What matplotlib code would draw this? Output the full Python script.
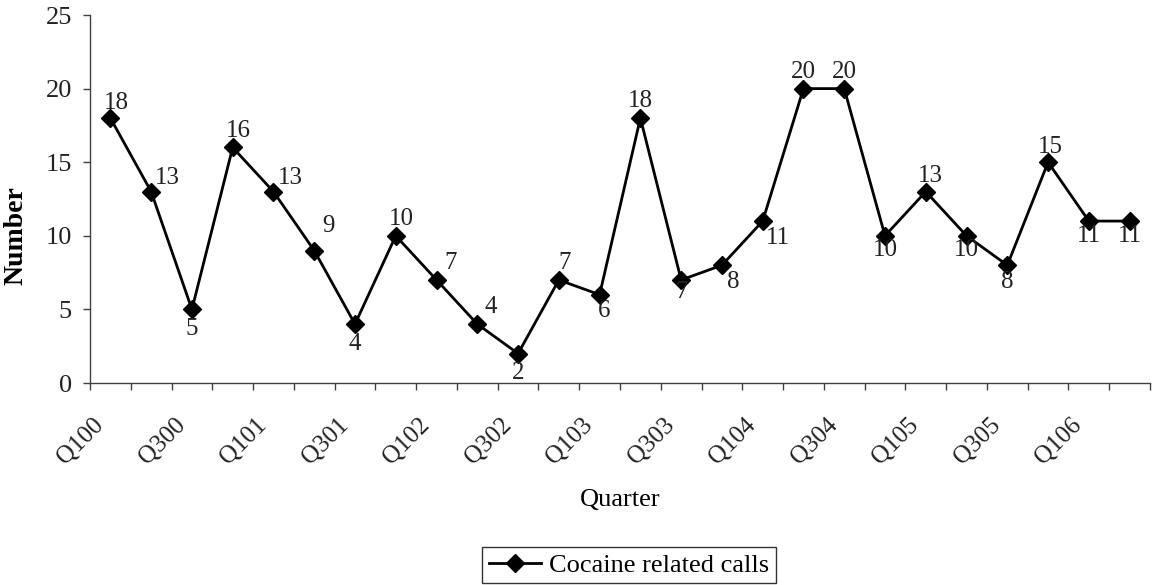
import matplotlib
matplotlib.use("Agg")
import matplotlib.pyplot as plt
import matplotlib.transforms as mtransforms
from matplotlib.ticker import FixedLocator, NullFormatter

quarters = ["Q100", "Q200", "Q300", "Q400",
            "Q101", "Q201", "Q301", "Q401",
            "Q102", "Q202", "Q302", "Q402",
            "Q103", "Q203", "Q303", "Q403",
            "Q104", "Q204", "Q304", "Q404",
            "Q105", "Q205", "Q305", "Q405",
            "Q106", "Q206"]
calls = [18, 13, 5, 16, 13, 9, 4, 10, 7, 4, 2, 7, 6,
         18, 7, 8, 11, 20, 20, 10, 13, 10, 8, 15, 11, 11]
series_name = "Cocaine related calls"
yticks = [0, 5, 10, 15, 20, 25]

# label offsets in points (style only)
label_offsets = [(4, 11), (12, 10), (0, -14), (4, 12), (12, 10), (10, 18), (0, -14),
                 (4, 12), (10, 12), (10, 12), (0, -14), (4, 12), (3, -12),
                 (0, 12), (0, -9), (8, -12), (11, -12), (0, 12), (0, 12),
                 (0, -10), (3, 11), (0, -10), (0, -12), (2, 11), (0, -11), (0, -11)]

plt.rcParams['font.family'] = ['Liberation Serif', 'DejaVu Serif']
FS_TICK = 19
FS_DATA = 18

fig = plt.figure(figsize=(11.53, 5.85), dpi=100)
ax = fig.add_axes([90/1153, 1-383/585, (1150-90)/1153, (383-15)/585])

xs = [i + 0.5 for i in range(len(calls))]
ax.plot(xs, calls, color='black', lw=2.0, marker='D', ms=9, mfc='black',
        mec='black', label=series_name)

for x, v, (dx, dy) in zip(xs, calls, label_offsets):
    ax.annotate(str(v), (x, v), xytext=(dx, dy), textcoords='offset points',
                ha='center', va='center', fontsize=FS_DATA, color='#222222')

ax.set_xlim(0, len(calls))
ax.set_ylim(0, 25)
ax.set_yticks(yticks)
ax.set_yticklabels([str(t) for t in yticks], fontsize=FS_TICK, color='#222222')

ax.set_xticks(xs[::2])
ax.set_xticklabels(quarters[::2], rotation=45, ha='right', va='baseline',
                   rotation_mode='anchor', fontsize=FS_TICK - 1, color='#222222')
ax.tick_params(axis='x', which='major', length=0, pad=31)
shift = mtransforms.ScaledTranslation(-6/100, 0, fig.dpi_scale_trans)
for lab in ax.get_xticklabels():
    lab.set_transform(lab.get_transform() + shift)
ax.xaxis.set_minor_locator(FixedLocator(list(range(len(calls) + 1))))
ax.xaxis.set_minor_formatter(NullFormatter())
ax.tick_params(axis='x', which='minor', length=5, width=1, direction='out', color='#404040')
ax.tick_params(axis='y', length=5, width=1, direction='out', color='#404040', pad=8)

for s in ['top', 'right']:
    ax.spines[s].set_visible(False)
for s in ['left', 'bottom']:
    ax.spines[s].set_color('#404040')
    ax.spines[s].set_linewidth(1)

ax.set_ylabel("Number", fontsize=20, fontweight='bold', va='center')
ax.yaxis.set_label_coords((16 - 90) / 1060, (383 - 236) / 368)
fig.text(620/1153, 1-500/585, "Quarter", ha='center', va='center', fontsize=FS_TICK)

leg = fig.legend(loc='center', bbox_to_anchor=(629/1153, 1-565/585), fontsize=FS_TICK,
                 frameon=True, fancybox=False, edgecolor='black', handlelength=2.0,
                 borderpad=0.25, handletextpad=0.3)
leg.get_frame().set_linewidth(1)

fig.savefig("out.png", dpi=100)
